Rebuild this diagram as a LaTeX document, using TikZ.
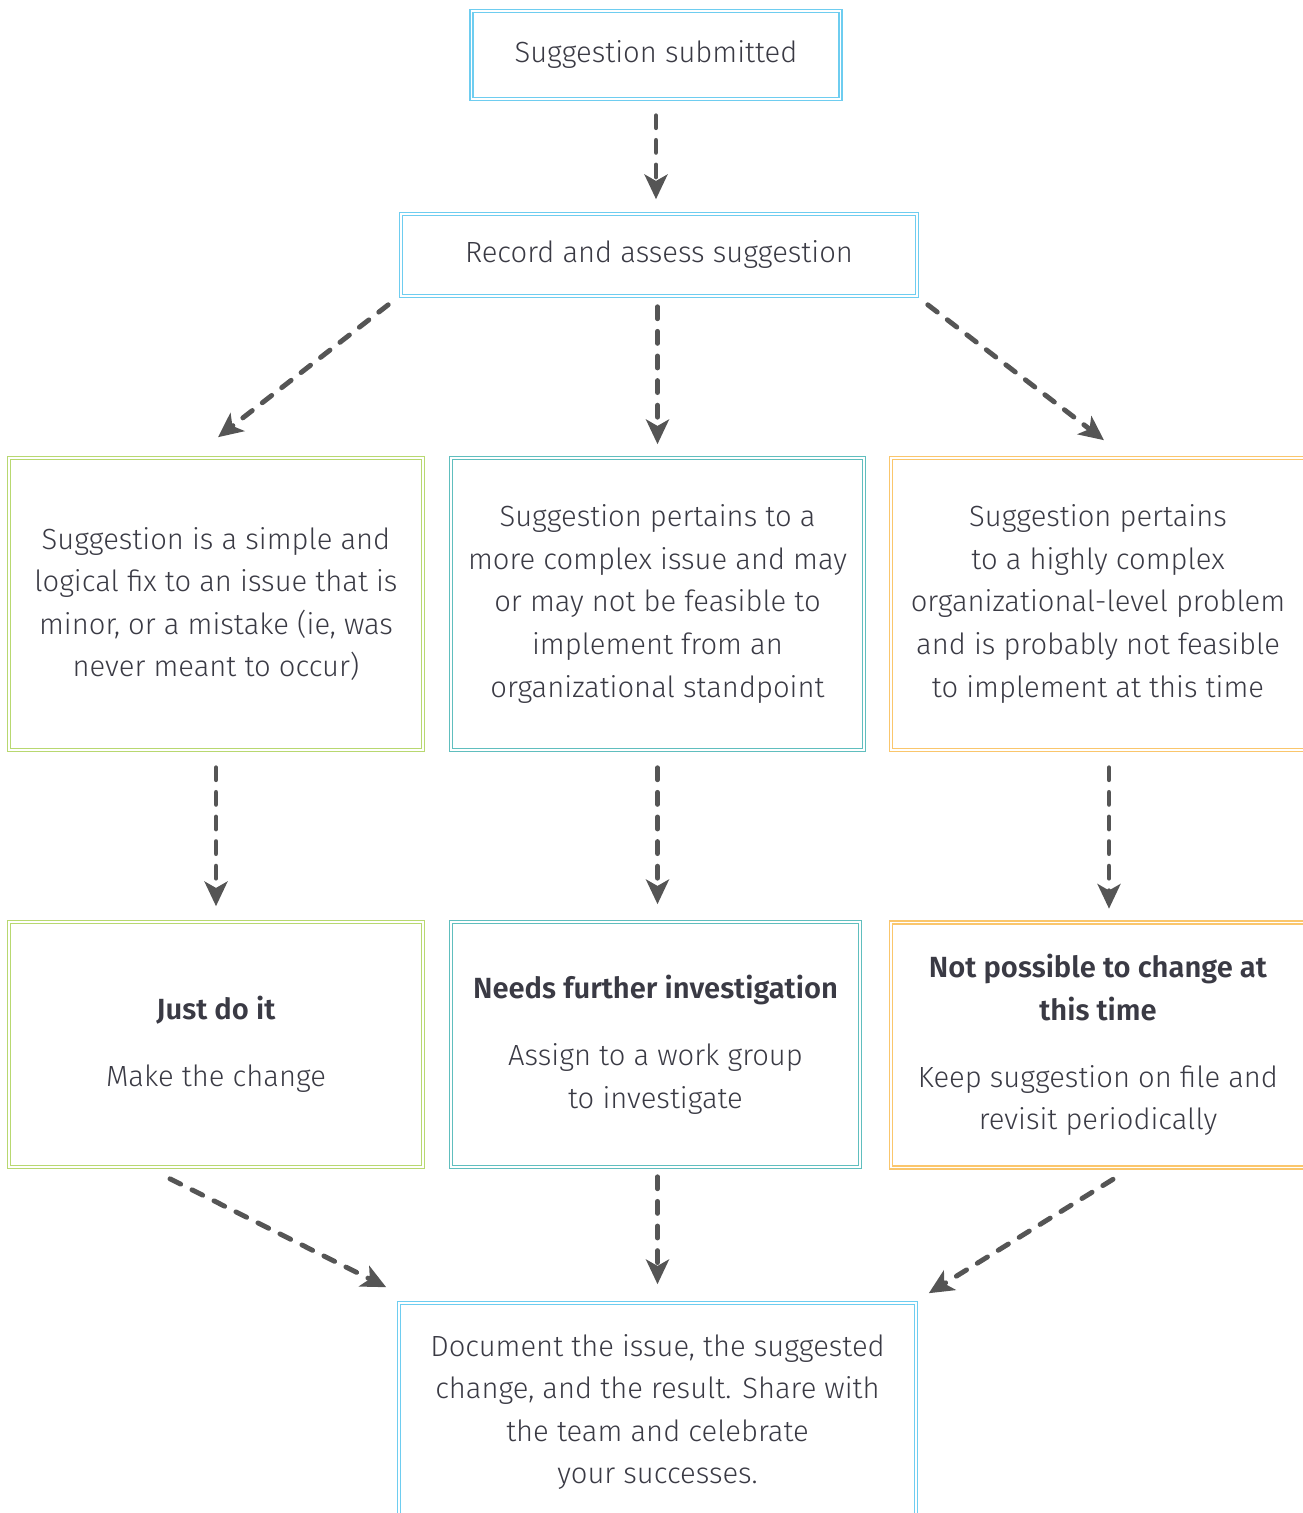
\documentclass[tikz,border=0pt]{standalone}
\usepackage{fontspec}
\setmainfont{Fira Sans}[UprightFont=* Light, BoldFont=* SemiBold]
\usetikzlibrary{arrows.meta, positioning, calc}
\definecolor{boxblue}{RGB}{110,205,240}
\definecolor{boxgreen}{RGB}{184,216,112}
\definecolor{boxteal}{RGB}{96,190,190}
\definecolor{boxorange}{RGB}{250,198,108}
\definecolor{flowgray}{RGB}{85,85,85}
\definecolor{inkgray}{RGB}{58,58,68}

\begin{document}
\begin{tikzpicture}[
    box/.style={draw=#1, double=white, double distance=0.35pt, line width=0.45pt,
      align=center, text=inkgray, inner sep=0pt, font=\fontsize{8.3}{12.1}\selectfont},
    flow/.style={line width=1.4pt, flowgray, dash pattern=on 3.4pt off 3.6pt, line cap=round,
      -{Stealth[length=7pt, width=6.5pt, inset=1.8pt]}}]
    \useasboundingbox (0,0) rectangle (13.02,-15.13);

    \node[box=boxblue, minimum width=3.69cm, minimum height=0.88cm] (sub) at (6.56,-0.55) {Suggestion submitted};
    \node[box=boxblue, minimum width=5.16cm, minimum height=0.82cm] (rec) at (6.59,-2.55) {Record and assess suggestion};

    % three kinds of suggestion
    \node[box=boxgreen, minimum width=4.14cm, minimum height=2.92cm] (simple) at (2.16,-6.04)
        {Suggestion is a simple and\\logical fix to an issue that is\\minor, or a mistake (ie, was\\never meant to occur)};
    \node[box=boxteal, minimum width=4.13cm, minimum height=2.92cm] (complex) at (6.575,-6.04)
        {Suggestion pertains to a\\more complex issue and may\\or may not be feasible to\\implement from an\\organizational standpoint};
    \node[box=boxorange, minimum width=4.14cm, minimum height=2.92cm] (high) at (10.98,-6.04)
        {Suggestion pertains\\to a highly complex\\organizational-level problem\\and is probably not feasible\\to implement at this time};

    % what to do
    \node[box=boxgreen, minimum width=4.14cm, minimum height=2.45cm] (just) at (2.16,-10.445)
        {\textbf{Just do it}\\[7pt]Make the change};
    \node[box=boxteal, minimum width=4.09cm, minimum height=2.45cm] (needs) at (6.555,-10.445)
        {\textbf{Needs further investigation}\\[7pt]Assign to a work group\\to investigate};
    \node[box=boxorange, minimum width=4.14cm, minimum height=2.45cm] (notposs) at (10.98,-10.45)
        {\textbf{Not possible to change at}\\\textbf{this time}\\[7pt]Keep suggestion on file and\\revisit periodically};

    \node[box=boxblue, minimum width=5.17cm, minimum height=2.18cm] (doc) at (6.575,-14.12)
        {Document the issue, the suggested\\change, and the result. Share with\\the team and celebrate\\your successes.};

    % arrows
    \draw[flow, shorten <=0.16cm, shorten >=0.14cm] (sub.south) -- (sub.south |- rec.north);
    \draw[flow] ($(rec.south west)+(-0.12,-0.08)$) -- ($(simple.north)+(0.02,0.2)$);
    \draw[flow, shorten <=0.10cm, shorten >=0.13cm] (rec.south -| complex) -- (complex.north);
    \draw[flow] ($(rec.south east)+(0.10,-0.08)$) -- ($(high.north)+(0.06,0.17)$);

    \draw[flow, shorten <=0.17cm, shorten >=0.15cm] (simple.south) -- (just.north);
    \draw[flow, shorten <=0.17cm, shorten >=0.17cm] (complex.south) -- (complex.south |- needs.north);
    \draw[flow] ($(high.south)+(0.11,-0.17)$) -- ($(notposs.north)+(0.11,0.13)$);

    \draw[flow] ($(just.south)+(-0.46,-0.11)$) -- ($(doc.north west)+(-0.12,0.15)$);
    \draw[flow, shorten <=0.09cm, shorten >=0.18cm] (needs.south -| complex) -- (doc.north -| complex);
    \draw[flow] ($(notposs.south)+(0.15,-0.11)$) -- ($(doc.north east)+(0.12,0.09)$);
\end{tikzpicture}
\end{document}
